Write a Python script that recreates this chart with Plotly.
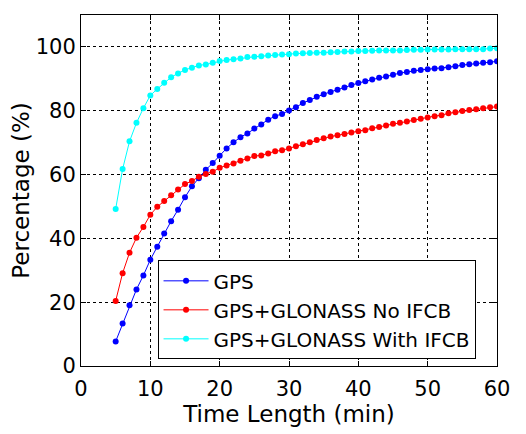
import plotly.graph_objects as go

time_min = list(range(5, 61))

gps = [7.7, 13.3, 19.0, 24.0, 28.4, 33.3, 37.4, 41.5, 45.4, 49.0,
       52.9, 56.3, 58.8, 61.5, 63.6, 65.9, 68.2, 70.1, 71.7, 72.9,
       74.4, 75.7, 77.2, 78.3, 79.0, 80.1, 81.1, 82.4, 83.4, 84.4,
       85.2, 85.9, 86.6, 87.3, 88.1, 88.7, 89.2, 89.8, 90.3, 90.7,
       91.3, 91.8, 92.1, 92.5, 92.8, 93.0, 93.2, 93.3, 93.6, 93.9,
       94.3, 94.6, 94.8, 95.0, 95.2, 95.5]

glo_no_ifcb = [20.4, 29.1, 35.5, 40.2, 43.6, 47.4, 49.9, 51.7, 53.5, 55.3,
               57.0, 58.0, 59.3, 60.2, 60.9, 62.1, 62.8, 63.5, 64.3, 65.0,
               65.8, 66.0, 66.6, 67.3, 67.6, 68.2, 68.9, 69.5, 70.1, 70.8,
               71.4, 71.9, 72.3, 72.7, 73.2, 73.6, 73.9, 74.5, 74.9, 75.4,
               75.9, 76.2, 76.6, 77.1, 77.5, 77.9, 78.3, 78.6, 79.2, 79.5,
               79.9, 80.2, 80.5, 80.8, 81.1, 81.3]

glo_with_ifcb = [49.2, 61.7, 70.4, 76.2, 80.8, 84.8, 86.8, 88.8, 90.5, 91.7,
                 92.8, 93.5, 94.2, 94.5, 95.0, 95.6, 95.9, 96.1, 96.4, 96.8,
                 96.9, 97.1, 97.3, 97.5, 97.6, 97.7, 97.9, 98.0, 98.1, 98.2,
                 98.2, 98.3, 98.4, 98.6, 98.6, 98.7, 98.7, 98.8, 98.9, 98.9,
                 98.9, 98.9, 99.0, 99.1, 99.1, 99.2, 99.2, 99.2, 99.2, 99.3,
                 99.3, 99.3, 99.3, 99.3, 99.5, 99.6]

series_names = ["GPS", "GPS+GLONASS No IFCB", "GPS+GLONASS With IFCB"]
series_colors = ["#0000FF", "#FF0000", "#00FFFF"]
x_ticks = [0, 10, 20, 30, 40, 50, 60]
y_ticks = [0, 20, 40, 60, 80, 100]

FONT = "DejaVu Sans"

fig = go.Figure()
for name, vals, col in zip(series_names, [gps, glo_no_ifcb, glo_with_ifcb], series_colors):
    fig.add_trace(go.Scatter(
        x=time_min, y=vals, name=name, mode="lines+markers",
        line=dict(color=col, width=1),
        marker=dict(color=col, size=6, symbol="circle"),
    ))

axis_common = dict(
    showgrid=True, gridcolor="black", gridwidth=1, griddash="3px,3px",
    showline=True, linecolor="black", linewidth=1, mirror="ticks",
    ticks="inside", ticklen=5, tickcolor="black", zeroline=False,
    automargin=False,
    tickfont=dict(family=FONT, size=21, color="black"),
)

fig.update_layout(
    width=526, height=434, autosize=False,
    margin=dict(l=73, r=37, t=7, b=76),
    paper_bgcolor="white", plot_bgcolor="white",
    font=dict(family=FONT, color="black"),
    xaxis=dict(range=[0, 60], tickvals=x_ticks, ticklabelstandoff=4,
               title=dict(text="Time Length (min)", font=dict(family=FONT, size=23), standoff=3),
               **axis_common),
    yaxis=dict(range=[0, 110], tickvals=y_ticks,
               title=dict(text="Percentage (%)", font=dict(family=FONT, size=23), standoff=4),
               **axis_common),
    legend=dict(x=0.184, y=0.019, xanchor="left", yanchor="bottom",
                bordercolor="black", borderwidth=1, bgcolor="white",
                font=dict(family=FONT, size=20, color="black"),
                itemwidth=45, entrywidth=272, tracegroupgap=0),
)

fig.write_html("out.html")
